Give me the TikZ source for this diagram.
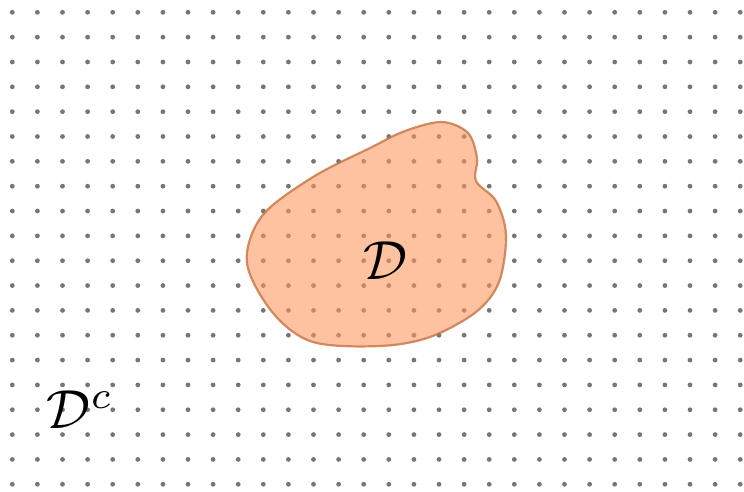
\documentclass[tikz,border=0pt]{standalone}
\usepackage{amsmath}
\usepackage{graphicx}
\definecolor{dotc}{RGB}{118,118,118}
\definecolor{blobfill}{RGB}{255,150,92}
\definecolor{blobline}{RGB}{200,115,65}
\tikzset{
  griddot/.style={fill=dotc},
  blob/.style={fill=blobfill, fill opacity=0.58, draw=blobline, draw opacity=0.8, line width=2.2pt},
  biglabel/.style={inner sep=0pt}
}
\begin{document}
\begin{tikzpicture}[x=1pt,y=-1pt]
\useasboundingbox (0,0) rectangle (744,491);
\foreach \i in {0,...,29}{
  \foreach \j in {0,...,19}{
    \fill[griddot] ({12.3+25.1*\i},{12.3+24.84*\j}) circle[radius=2.4pt];
  }
}
\draw[blob] plot[smooth cycle, tension=0.55] coordinates {
  (442,122) (468,133) (477,158) (476,181) (496,201) (506,235)
  (499,282) (476,312) (430,337) (380,346) (313,342) (273,313)
  (247,263) (262,216) (313,177) (370,148) (405,131)
};
\node[biglabel] (D) at (385,261) {\scalebox{5.5}{$\mathcal{D}$}};
\node[biglabel] (Dc) at (80,410) {\scalebox{5.5}{$\mathcal{D}^c$}};
\end{tikzpicture}
\end{document}
